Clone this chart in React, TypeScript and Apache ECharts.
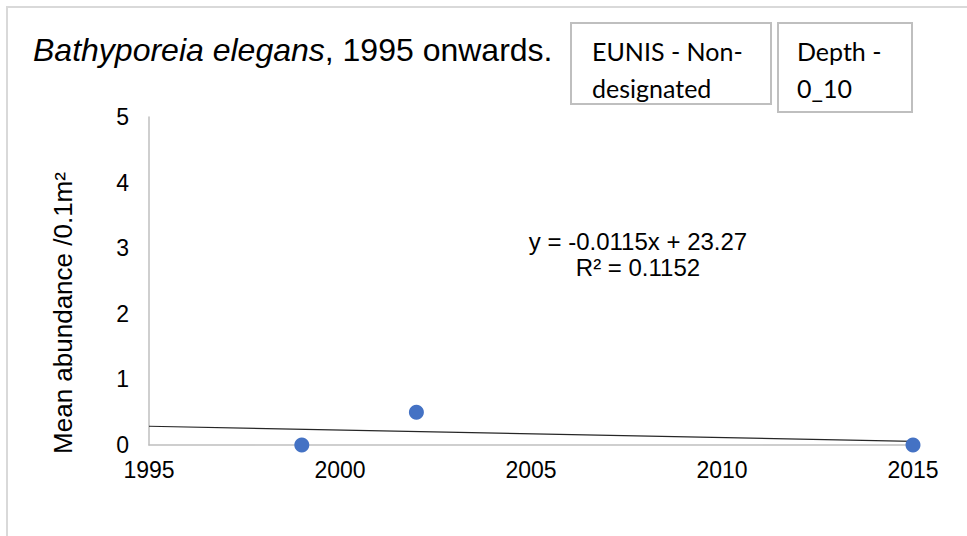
import React, { useEffect, useRef } from "react";
import * as echarts from "echarts";

const years = [1999, 2002, 2015];
const abundance = [0, 0.5, 0];
const trendRange = [1995, 2015];
const titleItalic = "Bathyporeia elegans";
const titleRest = ", 1995 onwards.";
const yAxisName = "Mean abundance /0.1m²";
const equationLines = ["y = -0.0115x + 23.27", "R² = 0.1152"];
const boxLines1 = ["EUNIS - Non-", "designated"];
const boxLines2 = ["Depth -", "0_10"];

const ARIAL = "'Liberation Sans', Arial, sans-serif";
const BOXFONT = "Lato, 'Open Sans', sans-serif";

function regression(xs: number[], ys: number[]) {
  const n = xs.length;
  const mx = xs.reduce((a, b) => a + b, 0) / n;
  const my = ys.reduce((a, b) => a + b, 0) / n;
  let sxy = 0, sxx = 0;
  for (let i = 0; i < n; i++) {
    sxy += (xs[i] - mx) * (ys[i] - my);
    sxx += (xs[i] - mx) ** 2;
  }
  const slope = sxy / sxx;
  return { slope, intercept: my - slope * mx };
}

export default function App() {
  const ref = useRef<HTMLDivElement>(null);
  useEffect(() => {
    if (!ref.current) return;
    const chart = echarts.init(ref.current, null, { renderer: "svg" });
    const { slope, intercept } = regression(years, abundance);
    const trend = trendRange.map((x) => [x, slope * x + intercept]);
    chart.setOption({
      animation: false,
      backgroundColor: "#ffffff",
      grid: { left: 149, right: 54, top: 117, bottom: 91 },
      xAxis: {
        type: "value",
        min: 1995,
        max: 2015,
        interval: 5,
        axisLine: { show: true, lineStyle: { color: "#bfbfbf", width: 1.5 } },
        axisTick: { show: false },
        splitLine: { show: false },
        axisLabel: {
          fontSize: 23,
          color: "#000",
          fontFamily: ARIAL,
          margin: 13,
          formatter: (v: number) => String(v),
        },
      },
      yAxis: {
        type: "value",
        min: 0,
        max: 5,
        interval: 1,
        axisLine: { show: true, lineStyle: { color: "#bfbfbf", width: 1.5 } },
        axisTick: { show: false },
        splitLine: { show: false },
        axisLabel: { fontSize: 23, color: "#000", fontFamily: ARIAL, margin: 20 },
      },
      series: [
        {
          type: "line",
          data: trend,
          symbol: "none",
          lineStyle: { color: "#262626", width: 1.2 },
          z: 2,
        },
        {
          type: "scatter",
          data: years.map((y, i) => [y, abundance[i]]),
          symbol: "circle",
          symbolSize: 15,
          itemStyle: { color: "#4472C4", opacity: 1 },
          z: 3,
        },
      ],
      graphic: [
        {
          type: "rect",
          shape: { x: 7, y: 7, width: 1000, height: 600 },
          style: { fill: "none", stroke: "#d9d9d9", lineWidth: 2 },
          silent: true,
        },
        {
          type: "text",
          x: 33,
          y: 50,
          style: {
            text: "{i|" + titleItalic + "}" + titleRest,
            fontSize: 32,
            fontFamily: ARIAL,
            fill: "#000",
            verticalAlign: "middle",
            rich: {
              i: { fontStyle: "italic", fontSize: 32, fontFamily: ARIAL, fill: "#000" },
            },
          },
        },
        {
          type: "rect",
          shape: { x: 571, y: 23, width: 200, height: 81 },
          style: { fill: "#fff", stroke: "#bfbfbf", lineWidth: 2 },
        },
        {
          type: "rect",
          shape: { x: 778, y: 23, width: 134, height: 89 },
          style: { fill: "#fff", stroke: "#bfbfbf", lineWidth: 2 },
        },
        ...boxLines1.map((t, i) => ({
          type: "text",
          x: 592,
          y: 51 + i * 37,
          style: { text: t, fontSize: 25, fontFamily: BOXFONT, fill: "#000", verticalAlign: "middle" },
        })),
        ...boxLines2.map((t, i) => ({
          type: "text",
          x: 797,
          y: 51 + i * 37,
          style: { text: t, fontSize: 25, fontFamily: BOXFONT, fill: "#000", verticalAlign: "middle" },
        })),
        ...equationLines.map((t, i) => ({
          type: "text",
          x: 638,
          y: 241 + i * 26,
          style: { text: t, fontSize: 24, fontFamily: ARIAL, fill: "#000", align: "center", verticalAlign: "middle" },
        })),
        {
          type: "text",
          x: 63,
          y: 313,
          rotation: Math.PI / 2,
          style: { text: yAxisName, fontSize: 26, fontFamily: ARIAL, fill: "#000", align: "center", verticalAlign: "middle" },
        },
      ],
    });
    return () => chart.dispose();
  }, []);
  return (
    <div
      ref={ref}
      style={{ position: "absolute", left: 0, top: 0, width: 967, height: 536 }}
    />
  );
}
